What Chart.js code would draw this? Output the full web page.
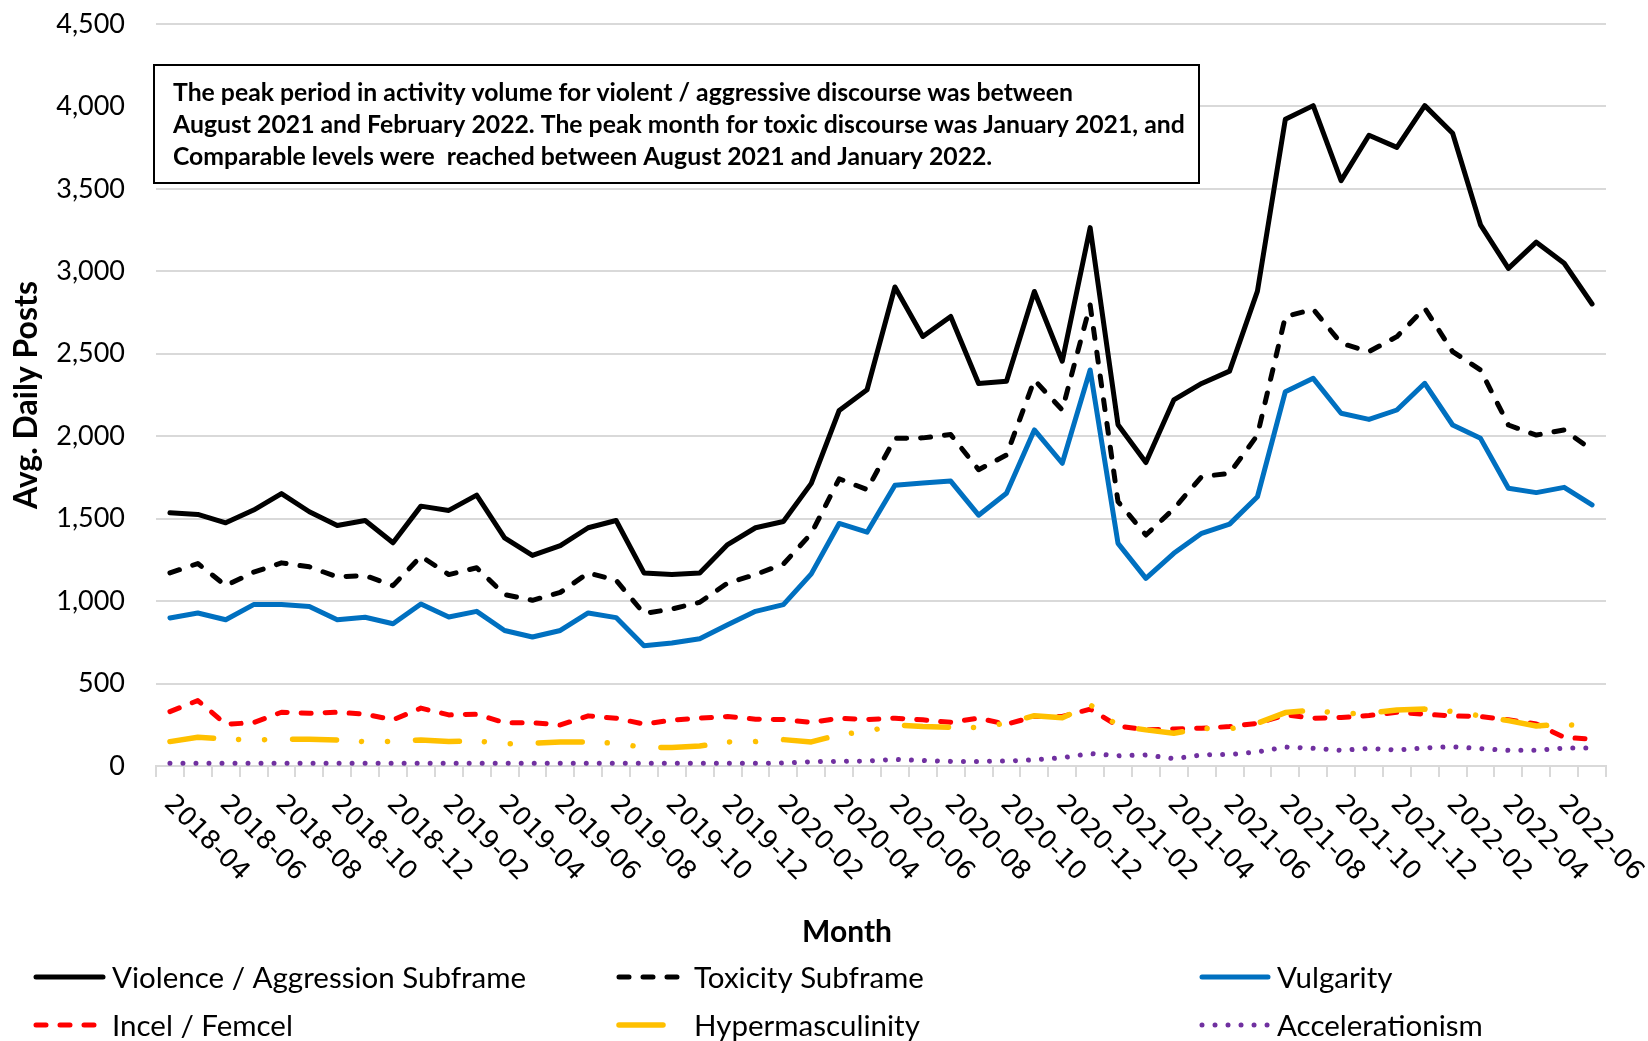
<!DOCTYPE html>
<html>
<head>
<meta charset="utf-8">
<style>
  html, body { margin: 0; padding: 0; background: #fff; }
  #wrap { width: 1648px; height: 1041px; }
</style>
<script src="https://cdn.jsdelivr.net/npm/chart.js@4.4.1/dist/chart.umd.min.js"></script>
</head>
<body>
<div id="wrap"><canvas id="chart" width="1648" height="1041"></canvas></div>
<script>
// Monthly categories (Apr 2018 - Jul 2022)
const months = [
  '2018-04', '2018-05', '2018-06', '2018-07', '2018-08', '2018-09', '2018-10', '2018-11', '2018-12',
  '2019-01', '2019-02', '2019-03', '2019-04', '2019-05', '2019-06', '2019-07', '2019-08', '2019-09',
  '2019-10', '2019-11', '2019-12', '2020-01', '2020-02', '2020-03', '2020-04', '2020-05', '2020-06',
  '2020-07', '2020-08', '2020-09', '2020-10', '2020-11', '2020-12', '2021-01', '2021-02', '2021-03',
  '2021-04', '2021-05', '2021-06', '2021-07', '2021-08', '2021-09', '2021-10', '2021-11', '2021-12',
  '2022-01', '2022-02', '2022-03', '2022-04', '2022-05', '2022-06', '2022-07'
];

// Avg. daily posts per series
const violence = [1536, 1526, 1475, 1552, 1652, 1542, 1459, 1489, 1354, 1576, 1550, 1643, 1384, 1277, 1337, 1445, 1489,
  1171, 1161, 1171, 1343, 1445, 1483, 1714, 2156, 2282, 2905, 2605, 2726, 2320, 2333, 2878, 2455, 3265,
  2070, 1840, 2220, 2320, 2395, 2880, 3922, 4005, 3550, 3825, 3752, 4005, 3838, 3282, 3018, 3177, 3049, 2802];
const toxicity = [1171, 1228, 1094, 1175, 1232, 1208, 1147, 1155, 1094, 1272, 1161, 1202, 1040, 1005, 1053, 1171, 1126,
  925, 952, 993, 1110, 1161, 1225, 1410, 1742, 1676, 1987, 1990, 2010, 1797, 1886, 2341, 2159, 2796,
  1603, 1401, 1560, 1755, 1775, 2007, 2725, 2770, 2564, 2513, 2604, 2776, 2513, 2402, 2068, 2007, 2038, 1916];
const vulgarity = [898, 928, 887, 979, 979, 968, 887, 902, 863, 983, 904, 938, 822, 782, 822, 928, 900,
  729, 746, 772, 857, 938, 979, 1165, 1471, 1418, 1703, 1717, 1728, 1521, 1654, 2038, 1836, 2402,
  1350, 1138, 1290, 1411, 1467, 1633, 2270, 2351, 2139, 2102, 2159, 2321, 2068, 1987, 1684, 1658, 1690, 1583];
const incel = [330, 397, 253, 263, 326, 320, 326, 314, 280, 351, 310, 314, 263, 263, 249, 304, 290,
  254, 278, 290, 300, 284, 282, 264, 290, 282, 290, 280, 265, 290, 253, 300, 300, 345,
  243, 219, 225, 229, 239, 259, 310, 290, 294, 306, 326, 314, 304, 300, 280, 255, 174, 162];
const hyper = [148, 174, 164, 158, 162, 162, 158, 148, 148, 158, 148, 152, 134, 138, 146, 146, 138,
  112, 112, 121, 146, 148, 160, 146, 190, 209, 249, 239, 235, 233, 260, 305, 292, 372,
  243, 219, 199, 228, 225, 259, 324, 340, 316, 320, 340, 345, 330, 304, 275, 243, 253, 239];
const accel = [16, 16, 16, 16, 16, 16, 16, 16, 16, 16, 16, 16, 16, 16, 16, 16, 16,
  16, 16, 16, 16, 16, 18, 26, 28, 30, 40, 33, 28, 28, 30, 38, 50, 75,
  62, 67, 44, 67, 70, 85, 115, 107, 95, 107, 97, 110, 117, 105, 95, 95, 109, 109];

const seriesNames = ['Violence / Aggression Subframe', 'Toxicity Subframe', 'Vulgarity',
  'Incel / Femcel', 'Hypermasculinity', 'Accelerationism'];

const noteLines = [
  'The peak period in activity volume for violent / aggressive discourse was between',
  'August 2021 and February 2022. The peak month for toxic discourse was January 2021, and',
  'Comparable levels were  reached between August 2021 and January 2022.'
];

const FONT = 'Lato, "Open Sans", sans-serif';

function lineSet(label, data, color, dash, width, order) {
  return {
    label: label,
    data: data,
    borderColor: color,
    backgroundColor: color,
    borderWidth: width,
    borderDash: dash,
    borderCapStyle: 'round',
    borderJoinStyle: 'round',
    pointRadius: 0,
    tension: 0,
    fill: false,
    order: order
  };
}

// Month labels (slanted down-right), axis title, legend grid and note box
const customText = {
  id: 'customText',
  afterDraw(chart) {
    const ctx = chart.ctx;
    const xs = chart.scales.x;
    const area = chart.chartArea;
    ctx.save();

    ctx.fillStyle = '#000';
    ctx.font = '26px "DejaVu Sans"';
    ctx.textAlign = 'left';
    ctx.textBaseline = 'alphabetic';
    months.forEach((m, i) => {
      if (i % 2) return;
      const px = xs.getPixelForValue(i);
      ctx.save();
      ctx.translate(px - 7, area.bottom + 39);
      ctx.rotate(Math.PI / 4);
      ctx.fillText(m, 0, 0);
      ctx.restore();
    });

    ctx.font = 'bold 30px ' + FONT;
    ctx.textAlign = 'center';
    ctx.textBaseline = 'middle';
    ctx.fillText('Month', 847, 932);

    // legend: 3 columns x 2 rows
    const cols = [36, 619, 1202];
    const textX = [112, 694, 1277];
    const rows = [977, 1025];
    const lens = [67, 66, 66, 67, 44, 66];
    chart.data.datasets.forEach((ds, i) => {
      const c = i % 3, r = Math.floor(i / 3);
      const y = rows[r];
      ctx.save();
      ctx.strokeStyle = ds.borderColor;
      ctx.lineWidth = ds.borderWidth;
      ctx.lineCap = 'round';
      ctx.setLineDash(ds.borderDash || []);
      ctx.beginPath();
      ctx.moveTo(cols[c], y);
      ctx.lineTo(cols[c] + lens[i], y);
      ctx.stroke();
      ctx.restore();
      ctx.font = '29.5px ' + FONT;
      ctx.textAlign = 'left';
      ctx.textBaseline = 'middle';
      ctx.fillStyle = '#000';
      ctx.fillText(ds.label, textX[c], y + 1);
    });

    // note box
    ctx.fillStyle = '#fff';
    ctx.fillRect(154, 65, 1045, 118);
    ctx.strokeStyle = '#000';
    ctx.lineWidth = 2;
    ctx.strokeRect(154, 65, 1045, 118);
    ctx.font = 'bold 100px ' + FONT;
    let w = 0;
    noteLines.forEach(t => { w = Math.max(w, ctx.measureText(t).width); });
    const size = 100 * 1012 / w;
    ctx.font = 'bold ' + size.toFixed(2) + 'px ' + FONT;
    ctx.fillStyle = '#000';
    ctx.textAlign = 'left';
    ctx.textBaseline = 'middle';
    noteLines.forEach((t, i) => ctx.fillText(t, 173, 93 + i * 32));

    ctx.restore();
  }
};

new Chart(document.getElementById('chart').getContext('2d'), {
  type: 'line',
  data: {
    labels: months,
    datasets: [
      lineSet(seriesNames[0], violence, '#000000', [], 5, 6),
      lineSet(seriesNames[1], toxicity, '#000000', [10, 14], 5, 5),
      lineSet(seriesNames[2], vulgarity, '#0070C0', [], 5, 4),
      lineSet(seriesNames[3], incel, '#FF0000', [10, 14], 5, 3),
      lineSet(seriesNames[4], hyper, '#FFC000', [44, 25, 0.01, 26, 0.01, 28], 5.5, 2),
      lineSet(seriesNames[5], accel, '#7030A0', [0.01, 13], 5, 1)
    ]
  },
  options: {
    responsive: false,
    animation: false,
    devicePixelRatio: 1,
    layout: { padding: { top: 24, right: 42, left: 0, bottom: 0 } },
    plugins: { legend: { display: false }, tooltip: { enabled: false } },
    scales: {
      x: {
        type: 'category',
        offset: true,
        grid: { drawOnChartArea: false, color: '#d9d9d9', lineWidth: 2, tickLength: 11, offset: true },
        border: { color: '#d9d9d9', width: 2 },
        ticks: { display: false, autoSkip: false },
        afterFit(scale) { scale.height = 275; }
      },
      y: {
        min: 0,
        max: 4500,
        grid: { color: '#d9d9d9', lineWidth: 2, drawTicks: false },
        border: { display: false },
        ticks: {
          stepSize: 500,
          padding: 31,
          color: '#000',
          font: { family: FONT, size: 27 },
          callback: v => v.toLocaleString('en-US')
        },
        title: {
          display: true,
          text: 'Avg. Daily Posts',
          color: '#000',
          font: { family: FONT, size: 32, weight: 'bold', lineHeight: 1.2 },
          padding: { top: 7, bottom: 0 }
        },
        afterFit(scale) {
          scale.width = 156;
          scale.paddingTop = 0;
          scale.paddingBottom = 0;
        }
      }
    }
  },
  plugins: [customText]
});
</script>
</body>
</html>
